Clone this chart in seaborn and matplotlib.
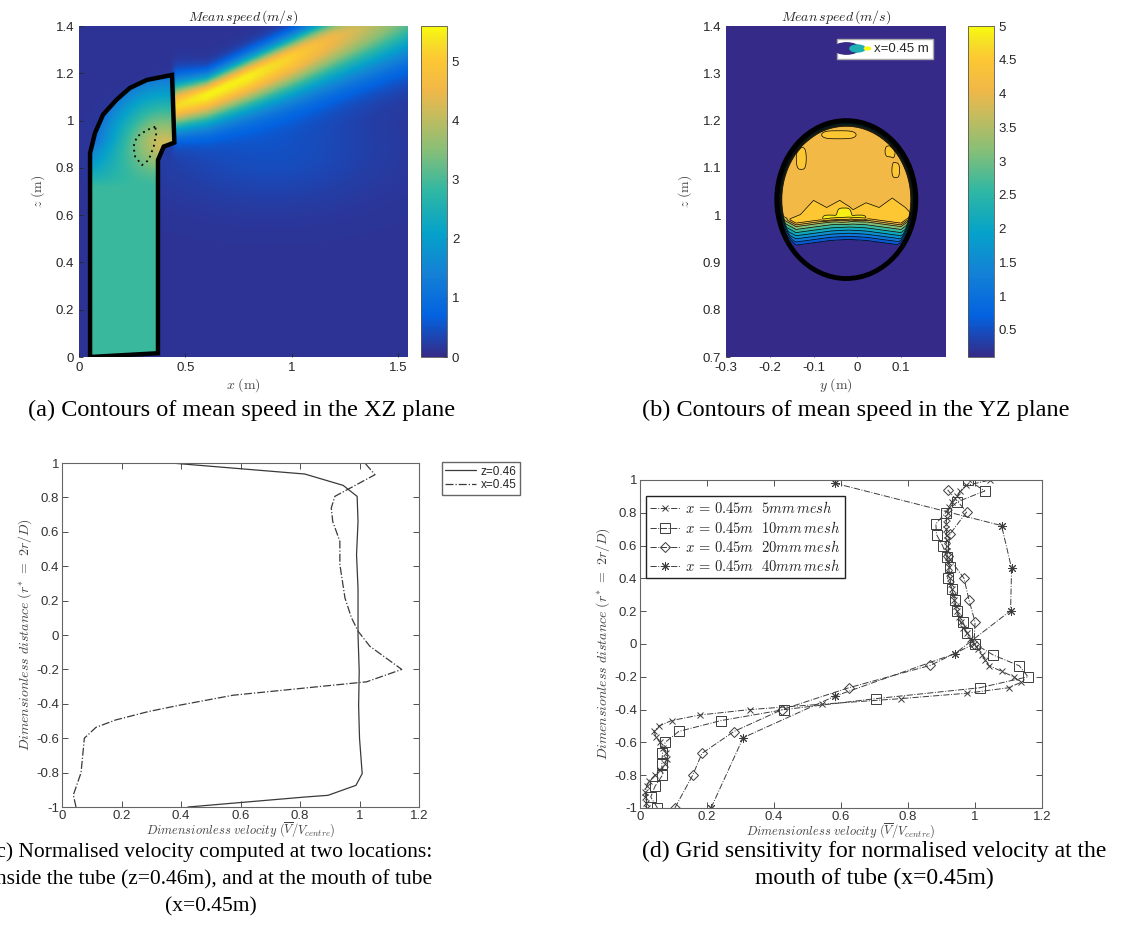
import numpy as np
import seaborn as sns
import matplotlib.pyplot as plt
from matplotlib.colors import LinearSegmentedColormap, Normalize
from matplotlib.cm import ScalarMappable
from matplotlib.path import Path
from matplotlib.patches import Ellipse
from matplotlib.lines import Line2D
from matplotlib.legend_handler import HandlerTuple
from matplotlib.ticker import FuncFormatter

# ---------------- (a) mean speed in the XZ plane ----------------
tube_x = [0.052, 0.371, 0.371, 0.398, 0.448, 0.437, 0.319, 0.239, 0.176, 0.113, 0.075, 0.052, 0.052]
tube_z = [0.000, 0.016, 0.833, 0.890, 0.907, 1.193, 1.172, 1.138, 1.088, 1.025, 0.947, 0.862, 0.000]
bubble_x = [0.358, 0.319, 0.272, 0.256, 0.264, 0.296, 0.327, 0.351, 0.363, 0.358]
bubble_z = [0.974, 0.960, 0.932, 0.890, 0.847, 0.812, 0.833, 0.890, 0.946, 0.974]
# jet leaving the tube mouth: centreline, widths above/below, peak speed
jet_x = [0.44, 0.60, 0.80, 1.00, 1.20, 1.55]
jet_z = [1.06, 1.11, 1.19, 1.27, 1.35, 1.47]
jet_wup = [0.10, 0.075, 0.08, 0.085, 0.10, 0.12]
jet_wlow = [0.10, 0.12, 0.14, 0.16, 0.18, 0.20]
jet_peak = [5.0, 5.3, 5.3, 5.0, 4.4, 3.3]
tube_core = 2.9           # speed in the straight part of the tube
bend_centre = [0.40, 0.86]
bend_peak, bend_low, bend_radius = 4.6, 1.1, 0.33
bg_level, halo_peak = 0.12, 0.35
halo_centre, halo_size = [0.9, 0.88], [0.5, 0.22]

# ---------------- (b) mean speed in the YZ plane (x = 0.45 m) ----------------
ell_centre = [-0.025, 1.033]
ell_a, ell_b = 0.159, 0.167
core_speed = 4.25
base_y = [-0.18, -0.14, -0.10, -0.06, -0.02, 0.02, 0.06, 0.10, 0.13]
base_z = [0.950, 0.930, 0.935, 0.940, 0.942, 0.940, 0.935, 0.930, 0.950]
band_y = [-0.17, -0.13, -0.10, -0.07, -0.04, -0.01, 0.02, 0.05, 0.08, 0.11, 0.14]
band_z = [0.990, 1.005, 1.035, 1.020, 1.035, 1.015, 1.030, 1.020, 1.040, 1.020, 0.990]
band_gain = 0.4
# fast patches: y, z, size y, size z, extra speed
patch_y = [-0.042, -0.128, 0.075, 0.088, -0.030, -0.063, 0.004]
patch_z = [1.170, 1.120, 1.135, 1.095, 1.000, 0.994, 0.994]
patch_sy = [0.045, 0.013, 0.013, 0.010, 0.016, 0.016, 0.016]
patch_sz = [0.011, 0.030, 0.015, 0.020, 0.014, 0.006, 0.006]
patch_amp = [0.45, 0.45, 0.45, 0.45, 0.8, 0.7, 0.7]
levels_b = [0.05, 0.6, 1.1, 1.6, 2.1, 2.6, 3.1, 3.6, 4.1, 4.5, 4.9, 5.0]

# ---------------- (c) normalised velocity profiles ----------------
z046_r = [1.0, 0.936, 0.87, 0.806, 0.66, 0.466, 0.27, 0.0, -0.21, -0.41, -0.60, -0.806, -0.874, -0.932, -0.942, -1.0]
z046_v = [0.367, 0.816, 0.945, 0.992, 0.995, 0.99, 0.995, 0.995, 0.999, 0.997, 1.0, 1.009, 0.988, 0.894, 0.816, 0.423]
x045_r = [1.0, 0.932, 0.806, 0.738, 0.66, 0.544, 0.41, 0.216, 0.1, 0.02, -0.066, -0.136, -0.2, -0.272,
          -0.311, -0.35, -0.408, -0.446, -0.494, -0.537, -0.6, -0.8, -0.93, -1.0]
x045_v = [1.018, 1.052, 0.917, 0.905, 0.91, 0.934, 0.934, 0.951, 0.973, 0.996, 1.035, 1.091, 1.142, 1.024,
          0.8, 0.575, 0.395, 0.288, 0.18, 0.114, 0.075, 0.064, 0.038, 0.047]

# ---------------- (d) grid sensitivity ----------------
m5_r = [1.0, 0.967, 0.933, 0.9, 0.867, 0.833, 0.8, 0.767, 0.733, 0.7, 0.667, 0.633, 0.6, 0.567, 0.533, 0.5,
        0.467, 0.433, 0.4, 0.367, 0.333, 0.3, 0.267, 0.233, 0.2, 0.167, 0.133, 0.1, 0.067, 0.033, 0.0,
        -0.033, -0.067, -0.1, -0.133, -0.167, -0.2, -0.233, -0.267, -0.3, -0.333, -0.367, -0.4, -0.433,
        -0.467, -0.5, -0.533, -0.567, -0.6, -0.633, -0.667, -0.7, -0.733, -0.767, -0.8, -0.833, -0.867,
        -0.9, -0.933, -0.967, -1.0]
m5_v = [1.046, 0.974, 0.955, 0.947, 0.93, 0.922, 0.918, 0.915, 0.914, 0.914, 0.915, 0.915, 0.915, 0.916,
        0.918, 0.92, 0.921, 0.923, 0.925, 0.928, 0.931, 0.934, 0.938, 0.942, 0.946, 0.951, 0.957, 0.965,
        0.975, 0.986, 0.997, 1.01, 1.022, 1.03, 1.042, 1.08, 1.115, 1.138, 1.10, 0.977, 0.78, 0.544, 0.328,
        0.179, 0.094, 0.057, 0.042, 0.048, 0.06, 0.07, 0.078, 0.08, 0.074, 0.06, 0.045, 0.028, 0.02,
        0.016, 0.016, 0.018, 0.02]
m10_r = [1.0, 0.933, 0.867, 0.8, 0.733, 0.667, 0.6, 0.533, 0.467, 0.4, 0.333, 0.267, 0.2, 0.133, 0.067, 0.0,
         -0.067, -0.133, -0.2, -0.267, -0.333, -0.4, -0.467, -0.533, -0.6, -0.667, -0.733, -0.8, -0.867,
         -0.933, -1.0]
m10_v = [0.979, 1.029, 0.947, 0.912, 0.883, 0.885, 0.903, 0.915, 0.925, 0.918, 0.932, 0.94, 0.945, 0.964,
         0.977, 0.999, 1.054, 1.132, 1.158, 1.014, 0.705, 0.431, 0.242, 0.116, 0.075, 0.067, 0.065, 0.067,
         0.045, 0.032, 0.052]
m20_r = [0.94, 0.805, 0.67, 0.537, 0.40, 0.268, 0.134, 0.0, -0.13, -0.267, -0.40, -0.534, -0.667, -0.801, -1.0]
m20_v = [0.918, 0.975, 0.925, 0.918, 0.967, 0.982, 1.0, 0.997, 0.867, 0.623, 0.424, 0.28, 0.185, 0.157, 0.104]
m40_r = [0.98, 0.722, 0.462, 0.203, -0.059, -0.318, -0.571, -1.0]
m40_v = [0.582, 1.079, 1.109, 1.106, 0.94, 0.582, 0.308, 0.212]

parula_pos = [0.0, 0.125, 0.25, 0.375, 0.5, 0.625, 0.75, 0.81, 0.9, 0.95, 1.0]
parula_colors = [(0.2081, 0.1663, 0.5292), (0.0117, 0.3875, 0.8820), (0.0779, 0.5040, 0.8384),
                 (0.0231, 0.6353, 0.7905), (0.1802, 0.7178, 0.6425), (0.5301, 0.7492, 0.4662),
                 (0.8186, 0.7328, 0.3480), (0.945, 0.720, 0.280), (0.990, 0.780, 0.200),
                 (0.965, 0.870, 0.150), (0.9763, 0.9831, 0.0538)]

sns.set_style("ticks")
plt.rcParams['font.family'] = ['Liberation Sans', 'DejaVu Sans']
plt.rcParams['mathtext.fontset'] = 'cm'
plt.rcParams['axes.unicode_minus'] = False

parula = LinearSegmentedColormap.from_list('parula', list(zip(parula_pos, parula_colors)))
fmt = FuncFormatter(lambda v, p: '%g' % round(v, 6))
tick_col = '#262626'

fig = plt.figure(figsize=(11.38, 9.43), dpi=100)

# ---- panel (a)
ax_a = fig.add_axes([0.0694, 0.6214, 0.2891, 0.351])
gx = np.linspace(0, 1.545, 420)
gz = np.linspace(0, 1.4, 380)
X, Z = np.meshgrid(gx, gz)
speed = bg_level + halo_peak * np.exp(-((X - halo_centre[0]) / halo_size[0]) ** 2
                                      - ((Z - halo_centre[1]) / halo_size[1]) ** 2)
dz = Z - np.interp(X, jet_x, jet_z)
w = np.where(dz > 0, np.interp(X, jet_x, jet_wup), np.interp(X, jet_x, jet_wlow))
onset = np.clip((X - 0.43) / 0.025, 0, 1)
speed = speed + onset * np.interp(X, jet_x, jet_peak) * np.exp(-(dz / w) ** 2)
tube_path = Path(np.column_stack([tube_x, tube_z]))
inside = tube_path.contains_points(np.column_stack([X.ravel(), Z.ravel()])).reshape(X.shape)
r = np.hypot(X - bend_centre[0], Z - bend_centre[1])
bend = bend_peak - (bend_peak - bend_low) * np.clip(r / bend_radius, 0, 1) ** 1.2
wb = np.clip((Z - 0.72) / 0.2, 0, 1)
speed = np.where(inside, (1 - wb) * tube_core + wb * bend, speed)

im = ax_a.imshow(speed, extent=[0, 1.545, 0, 1.4], origin='lower', cmap=parula, vmin=0, vmax=5.6,
                 aspect='auto', interpolation='bilinear')
ax_a.plot(tube_x, tube_z, color='k', lw=3.2, solid_joinstyle='miter')
ax_a.plot(bubble_x, bubble_z, color='k', ls=(0, (1, 2.2)), lw=1.3)
ax_a.set_xlim(0, 1.545)
ax_a.set_ylim(0, 1.4)
ax_a.set_xticks([0, 0.5, 1, 1.5])
ax_a.set_yticks([0, 0.2, 0.4, 0.6, 0.8, 1, 1.2, 1.4])
ax_a.set_xlabel(r'$x\ \mathrm{(m)}$', fontsize=10, color='#444444', labelpad=2)
ax_a.set_ylabel(r'$z\ \mathrm{(m)}$', fontsize=10, color='#444444', labelpad=6)
ax_a.set_title(r'$Mean\,speed\,(m/s)$', fontsize=10, pad=3)

cax_a = fig.add_axes([0.370, 0.6214, 0.0228, 0.351])
cb_a = fig.colorbar(im, cax=cax_a, ticks=[0, 1, 2, 3, 4, 5])

# ---- panel (b)
ax_b = fig.add_axes([0.638, 0.6214, 0.1933, 0.351])
gy = np.linspace(-0.3, 0.203, 500)
gz2 = np.linspace(0.7, 1.4, 700)
Y, Z2 = np.meshgrid(gy, gz2)
rho = np.hypot((Y - ell_centre[0]) / ell_a, (Z2 - ell_centre[1]) / ell_b)
edge = np.clip((0.985 - rho) / 0.06, 0, 1)
zb = np.interp(Y, base_y, base_z)
ramp = np.clip((Z2 - zb) / 0.055, 0, 1)
band = np.clip((np.interp(Y, band_y, band_z) - Z2) / 0.006, 0, 1) * np.clip((Z2 - zb - 0.045) / 0.006, 0, 1)
core = core_speed + band_gain * band
for py, pz, sy, sz, amp in zip(patch_y, patch_z, patch_sy, patch_sz, patch_amp):
    core = core + amp * np.exp(-((Y - py) / sy) ** 4 - ((Z2 - pz) / sz) ** 2)
u = 0.1 + (np.minimum(core, 4.99) - 0.1) * edge * ramp
# MATLAB-style fill: every band takes the colour of its lower level
band_colors = [parula(max(lv - 0.1, 0) / 4.9) for lv in levels_b[:-1]]
ax_b.contourf(Y, Z2, u, levels=levels_b, colors=band_colors)
ax_b.contour(Y, Z2, u, levels=levels_b[1:-1], colors='k', linewidths=0.5)
ax_b.add_patch(Ellipse(ell_centre, 2 * ell_a, 2 * ell_b, fill=False, ec='k', lw=3.5))
ax_b.set_xlim(-0.3, 0.203)
ax_b.set_ylim(0.7, 1.4)
ax_b.set_xticks([-0.3, -0.2, -0.1, 0, 0.1])
ax_b.set_yticks([0.7, 0.8, 0.9, 1.0, 1.1, 1.2, 1.3, 1.4])
ax_b.set_xlabel(r'$y\ \mathrm{(m)}$', fontsize=10, color='#444444', labelpad=2)
ax_b.set_ylabel(r'$z\ \mathrm{(m)}$', fontsize=10, color='#444444', labelpad=6)
ax_b.set_title(r'$Mean\,speed\,(m/s)$', fontsize=10, pad=3)

ell_path = Path(Path.unit_circle().vertices * [2.2, 1.0], Path.unit_circle().codes)
icon = tuple(Line2D([], [], ls='none', marker=ell_path, ms=s, mfc=c, mec=c)
             for s, c in [(18, parula(0.0)), (11, parula(0.45)), (4.5, parula(1.0))])
ax_b.legend([icon], ['x=0.45 m'], handler_map={tuple: HandlerTuple(ndivide=None, pad=0)},
            loc='upper right', bbox_to_anchor=(0.941, 0.961), borderaxespad=0, fontsize=9.5,
            fancybox=False, framealpha=1, edgecolor='#aaaaaa', borderpad=0.3, handlelength=2.3,
            handletextpad=0.2)

cax_b = fig.add_axes([0.8506, 0.6214, 0.0228, 0.351])
cb_b = fig.colorbar(ScalarMappable(norm=Normalize(0.1, 5), cmap=parula), cax=cax_b,
                    ticks=[0.5, 1, 1.5, 2, 2.5, 3, 3.5, 4, 4.5, 5])

for ax in (ax_a, ax_b, cax_a, cax_b):
    ax.tick_params(direction='in', length=3, width=0.6, labelsize=9.5, colors=tick_col)
    ax.xaxis.set_major_formatter(fmt)
    ax.yaxis.set_major_formatter(fmt)
    for s in ax.spines.values():
        s.set_linewidth(0.6)
        s.set_color('#555555')
for ax in (ax_a, ax_b):
    for s in ax.spines.values():
        s.set_visible(False)

# ---- panel (c)
line_col = '#3a3a3a'
ax_c = fig.add_axes([0.0545, 0.1442, 0.3137, 0.3648])
sns.lineplot(x=z046_v, y=z046_r, orient='y', estimator=None, ax=ax_c, color=line_col, lw=0.9,
             label='z=0.46')
sns.lineplot(x=x045_v, y=x045_r, orient='y', estimator=None, ax=ax_c, color=line_col, lw=0.9,
             ls='-.', label='x=0.45')
ax_c.legend(loc='upper left', bbox_to_anchor=(1.064, 1.003), borderaxespad=0, fontsize=8.5,
            fancybox=False, framealpha=1, edgecolor='#666666', borderpad=0.3, labelspacing=0.15,
            handlelength=2.6, handletextpad=0.4)

# ---- panel (d)
ax_d = fig.add_axes([0.5624, 0.1432, 0.3533, 0.3478])
d_col = '#3c3c3c'
series_d = [(m5_v, m5_r, 'x', 5.0, r'$x\,=\,0.45m\ \ 5mm\,mesh$'),
            (m10_v, m10_r, 's', 6.5, r'$x\,=\,0.45m\ \ 10mm\,mesh$'),
            (m20_v, m20_r, 'D', 5.0, r'$x\,=\,0.45m\ \ 20mm\,mesh$'),
            (m40_v, m40_r, (8, 2, 0), 6.5, r'$x\,=\,0.45m\ \ 40mm\,mesh$')]
for v, rr, mk, ms, lab in series_d:
    sns.lineplot(x=v, y=rr, orient='y', estimator=None, ax=ax_d, color=d_col, lw=0.7, ls='-.',
                 marker=mk, ms=ms, mfc='none', mec=d_col, mew=0.7, label=lab)
ax_d.legend(loc='upper left', bbox_to_anchor=(0.015, 0.951), borderaxespad=0, fontsize=10.5,
            fancybox=False, framealpha=1, edgecolor='#222222', borderpad=0.3, labelspacing=0.22,
            handlelength=2.0, handletextpad=0.4)

for ax in (ax_c, ax_d):
    ax.set_xlim(0, 1.2)
    ax.set_ylim(-1, 1)
    ax.set_xticks([0, 0.2, 0.4, 0.6, 0.8, 1, 1.2])
    ax.set_yticks([-1, -0.8, -0.6, -0.4, -0.2, 0, 0.2, 0.4, 0.6, 0.8, 1])
    ax.xaxis.set_major_formatter(fmt)
    ax.yaxis.set_major_formatter(fmt)
    ax.tick_params(direction='in', length=4, width=0.6, labelsize=9.5, colors='#333333',
                   top=True, right=True, pad=2)
    for s in ax.spines.values():
        s.set_linewidth(0.8)
        s.set_color('#666666')
    ax.set_xlabel(r'$Dimensionless\ velocity\ (\overline{V}/V_{centre})$', fontsize=9,
                  color='#444444', labelpad=-1)
    ax.set_ylabel(r'$Dimensionless\ distance\ (r^{*}\ =\ 2r/D)$', fontsize=10, color='#444444',
                  labelpad=2)

# ---- captions
cap = dict(family=['Liberation Serif', 'DejaVu Serif'], color='black', ha='center')
fig.text(242 / 1138, 1 - 410 / 943, '(a) Contours of mean speed in the XZ plane', va='center',
         fontsize=17.5, **cap)
fig.text(856 / 1138, 1 - 410 / 943, '(b) Contours of mean speed in the YZ plane', va='center',
         fontsize=17.5, **cap)
fig.text(211 / 1138, 1 - 879 / 943,
         '(c) Normalised velocity computed at two locations:\n'
         'inside the tube (z=0.46m), and at the mouth of tube\n(x=0.45m)',
         va='center', linespacing=1.55, fontsize=15.5, **cap)
fig.text(874 / 1138, 1 - 865 / 943,
         '(d) Grid sensitivity for normalised velocity at the\nmouth of tube (x=0.45m)',
         va='center', linespacing=1.4, fontsize=17, **cap)

fig.savefig('out.png', dpi=100)
